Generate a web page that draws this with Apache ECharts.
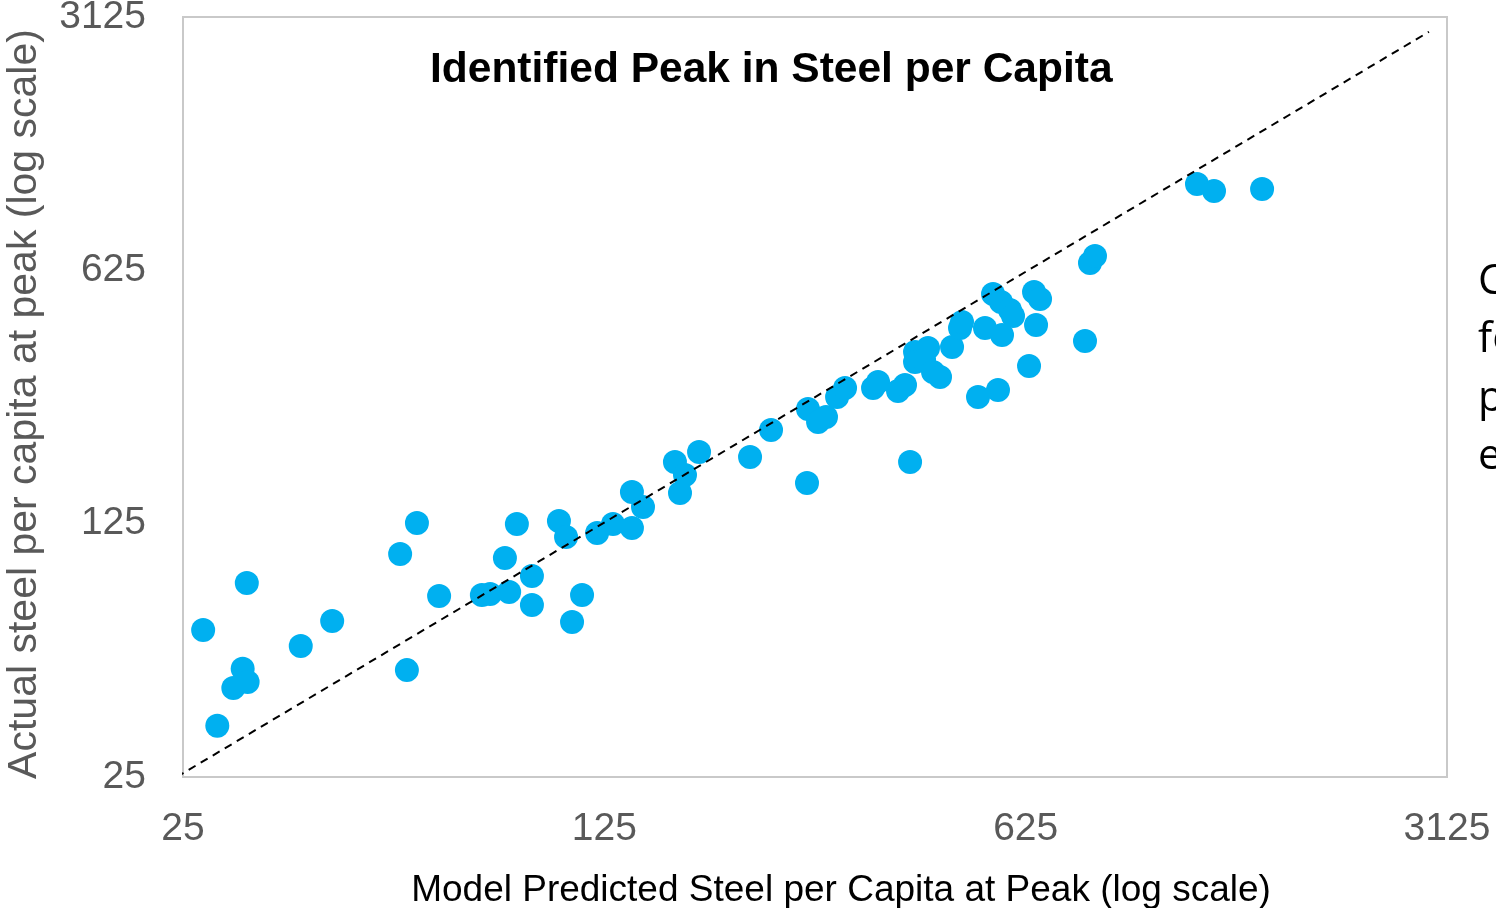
<!DOCTYPE html>
<html>
<head>
<meta charset="utf-8">
<script src="https://cdn.jsdelivr.net/npm/echarts@6/dist/echarts.min.js"></script>
<style>
html,body{margin:0;padding:0;background:#fff;overflow:hidden;}
#chart{width:1496px;height:908px;}
</style>
</head>
<body>
<div id="chart"></div>
<script>
// Model predicted steel per capita at peak (x)
const predicted = [27.0, 31.9, 61.1, 57.3, 44.2, 39.2, 31.4, 30.3, 32.0, 28.5,
  58.8, 66.5, 78.3, 80.8, 86.9, 94.8, 94.8, 85.5, 89.5, 105.1,
  108.0, 114.8, 110.5, 121.6, 129.2, 138.9, 138.9, 144.9, 163.7, 170.1,
  166.9, 179.5, 218.1, 236.3, 271.1, 272.1, 282.8, 291.5, 304.1, 313.5,
  348.9, 355.6, 383.8, 394.2, 401.9, 409.6, 430.4, 409.6, 423.9, 438.7,
  450.6, 471.8, 486.4, 490.1, 521.0, 562.3, 535.1, 551.8, 568.8, 588.7,
  595.5, 571.0, 645.3, 660.3, 650.3, 633.1, 784.0, 799.1, 814.5, 1202.5,
  1283.3, 1542.0];
// Actual steel per capita at peak (y)
const actual = [63.6, 85.7, 125.5, 103.1, 67.4, 57.5, 49.7, 44.0, 45.7, 34.6,
  49.3, 78.9, 79.4, 80.0, 81.0, 89.6, 74.6, 100.5, 124.7, 127.1,
  114.9, 79.4, 66.9, 117.8, 124.7, 121.6, 152.9, 139.0, 184.9, 170.3,
  151.9, 197.1, 190.9, 226.7, 161.9, 259.0, 238.5, 246.2, 279.5, 296.0,
  296.0, 307.5, 290.4, 301.7, 184.9, 372.0, 381.6, 349.2, 353.6, 327.7,
  317.4, 384.0, 433.3, 450.1, 279.5, 292.2, 433.3, 537.8, 511.1, 485.8,
  467.6, 414.5, 544.7, 521.0, 441.6, 340.4, 398.9, 654.8, 684.6, 1081.5,
  1034.5, 1047.7];
// Parity (y = x) reference line end points
const parityX = [24.4, 2917];
const parityY = [25, 2845];
const tickValues = [25, 125, 625, 3125];
const titleText = 'Identified Peak in Steel per Capita';
const xName = 'Model Predicted Steel per Capita at Peak (log scale)';
const yName = 'Actual steel per capita at peak (log scale)';
const sideLines = ['C', 'fo', 'p', 'e'];

const points = predicted.map((v, i) => [v, actual[i]]);
const parity = parityX.map((v, i) => [v, parityY[i]]);

const chart = echarts.init(document.getElementById('chart'), null, {renderer: 'canvas'});
const labelColor = '#595959';
const fmt = v => String(Math.round(v));

chart.setOption({
  animation: false,
  backgroundColor: '#ffffff',
  title: {
    text: titleText,
    left: 425,
    top: 44,
    textStyle: {
      fontFamily: '"Liberation Sans Narrow", "Liberation Sans", Arial, sans-serif',
      fontSize: 42.5,
      fontWeight: 'bold',
      color: '#000000'
    }
  },
  grid: {
    left: 183, top: 17, right: 49, bottom: 131,
    show: true, borderColor: '#c9c9c9', borderWidth: 2,
    containLabel: false,
    outerBoundsMode: 'none'
  },
  xAxis: {
    type: 'log', logBase: 5, min: 25, max: 3125,
    name: xName,
    nameLocation: 'middle',
    nameGap: 95,
    nameTextStyle: {
      fontFamily: '"Liberation Sans", Arial, sans-serif',
      fontSize: 37, color: '#000000', padding: [0, 0, 0, 52]
    },
    axisLine: {show: false},
    axisTick: {show: false},
    splitLine: {show: false},
    axisLabel: {
      formatter: fmt, color: labelColor, fontSize: 39, margin: 33,
      fontFamily: '"Liberation Sans", Arial, sans-serif'
    }
  },
  yAxis: {
    type: 'log', logBase: 5, min: 25, max: 3125,
    name: yName,
    nameLocation: 'middle',
    nameGap: 138,
    nameRotate: 90,
    nameTextStyle: {
      fontFamily: '"Liberation Sans", Arial, sans-serif',
      fontSize: 41, color: labelColor, padding: [0, 14, 0, 0]
    },
    axisLine: {show: false},
    axisTick: {show: false},
    splitLine: {show: false},
    axisLabel: {
      formatter: fmt, color: labelColor, fontSize: 39, margin: 37,
      padding: [5, 0, 0, 0],
      fontFamily: '"Liberation Sans", Arial, sans-serif'
    }
  },
  graphic: sideLines.map((t, i) => ({
    type: 'text',
    left: 1478,
    top: 261 + i * 58.5,
    style: {
      text: t,
      fontSize: 42,
      fontFamily: '"Open Sans", "Noto Sans", sans-serif',
      fill: '#000000'
    }
  })),
  series: [
    {
      type: 'line',
      data: parity,
      symbol: 'none',
      clip: false,
      lineStyle: {color: '#000000', width: 2, type: [8, 6]},
      z: 3
    },
    {
      type: 'scatter',
      data: points,
      symbol: 'circle',
      symbolSize: 24,
      itemStyle: {color: '#00B0F0', opacity: 1},
      z: 2
    }
  ]
});
</script>
</body>
</html>
